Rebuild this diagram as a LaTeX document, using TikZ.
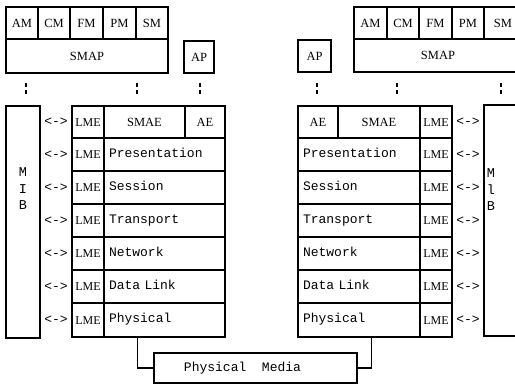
\documentclass[tikz,border=0pt]{standalone}
\usepackage{fontspec}
\setmainfont{Liberation Serif}
\newfontfamily\monof{Liberation Mono}
\begin{document}
\begin{tikzpicture}[x=1pt,y=-1pt,
  box/.style={draw, line width=1.1pt, inner sep=0pt, font=\fontsize{12.5}{14}\selectfont, text height=8.5pt, text depth=0pt},
  lme/.style={box, minimum width=32pt, font=\fontsize{12}{14}\selectfont},
  lay/.style={draw, line width=1.1pt, inner xsep=5pt, inner ysep=0pt, align=left, font=\monof\fontsize{13}{15}\selectfont, text height=9pt, text depth=3pt},
  arr/.style={inner sep=0pt, font=\monof\fontsize{13}{15}\selectfont},
  mibtxt/.style={inner sep=0pt, align=center, font=\monof\fontsize{13.5}{16.5}\selectfont},
  dots/.style={line width=1.1pt, dash pattern=on 4pt off 3pt},
  conn/.style={line width=1.1pt}]
\useasboundingbox (0,0) rectangle (515,385);

% ---------- left top ----------
\node[box, minimum width=32pt, minimum height=32pt] (lam) at (22,23) {AM};
\node[box, minimum width=32pt, minimum height=32pt] (lcm) at (54,23) {CM};
\node[box, minimum width=33pt, minimum height=32pt] (lfm) at (86.5,23) {FM};
\node[box, minimum width=33pt, minimum height=32pt] (lpm) at (119.5,23) {PM};
\node[box, minimum width=32pt, minimum height=32pt] (lsm) at (152,23) {SM};
\node[box, minimum width=162pt, minimum height=34pt] (lsmap) at (87,56) {SMAP};
\node[box, minimum width=30pt, minimum height=32pt] (lap) at (199,57) {AP};

% ---------- right top ----------
\node[box, minimum width=33pt, minimum height=32pt] (ram) at (370.5,23) {AM};
\node[box, minimum width=32pt, minimum height=32pt] (rcm) at (403,23) {CM};
\node[box, minimum width=33pt, minimum height=32pt] (rfm) at (435.5,23) {FM};
\node[box, minimum width=32pt, minimum height=32pt] (rpm) at (468,23) {PM};
\node[box, minimum width=38pt, minimum height=32pt] (rsm) at (503,23) {SM};
\node[box, minimum width=168pt, minimum height=33pt] (rsmap) at (438,55.5) {SMAP};
\node[box, minimum width=33pt, minimum height=32pt] (rap) at (314.5,56) {AP};

% ---------- dotted marks ----------
\foreach \x [count=\i] in {26,137,200,317,397,501}{
  \coordinate (dt\i) at (\x,83);
  \coordinate (db\i) at (\x,96);
  \draw[dots] (dt\i) -- (db\i);
}

% ---------- left stack ----------
\node[lme, minimum height=32pt] (llme0) at (88,122) {LME};
\node[box, minimum width=81pt, minimum height=32pt] (lsmae) at (144.5,122) {SMAE};
\node[box, minimum width=40pt, minimum height=32pt] (lae) at (205,122) {AE};
\node[arr] (la0) at (56,122) {<->};

\foreach \y/\h/\t [count=\i] in {154.5/33/Presentation,187.5/33/Session,220.5/33/Transport,253.5/33/Network,286.5/33/Data Link,320/34/Physical}{
  \node[lme, minimum height=\h pt] (llme\i) at (88,\y) {LME};
  \node[lay, minimum height=\h pt, text width=111pt] (llay\i) at (164.5,\y) {\t};
  \node[arr] (la\i) at (56,\y) {<->};
}

\node[draw, line width=1.1pt, minimum width=34pt, minimum height=232pt, inner sep=0pt] (lmib) at (23,222) {};
\node[mibtxt] (lmibt) at (23,189) {M\\I\\B};

% ---------- right stack ----------
\node[box, minimum width=40pt, minimum height=32pt] (rae) at (318,122) {AE};
\node[box, minimum width=82pt, minimum height=32pt] (rsmae) at (379,122) {SMAE};
\node[lme, minimum height=32pt] (rlme0) at (436,122) {LME};
\node[arr] (ra0) at (468,122) {<->};

\foreach \y/\h/\t [count=\i] in {154.5/33/Presentation,187.5/33/Session,220.5/33/Transport,253.5/33/Network,286.5/33/Data Link,320/34/Physical}{
  \node[lay, minimum height=\h pt, text width=112pt] (rlay\i) at (359,\y) {\t};
  \node[lme, minimum height=\h pt] (rlme\i) at (436,\y) {LME};
  \node[arr] (ra\i) at (468,\y) {<->};
}

\node[draw, line width=1.1pt, minimum width=40pt, minimum height=231pt, inner sep=0pt] (rmib) at (504,220.5) {};
\node[mibtxt] (rmibt) at (491,190) {M\\l\\B};

% ---------- physical media ----------
\node[draw, line width=1.1pt, minimum width=203pt, minimum height=30pt, inner sep=0pt, font=\monof\fontsize{13}{15}\selectfont] (media) at (255.5,368) {Physical~~Media\hspace*{26pt}};

\draw[conn] ([xshift=34pt]llay6.south west) |- (media.west);
\draw[conn] ([xshift=74pt]rlay6.south west) |- (media.east);
\end{tikzpicture}
\end{document}
